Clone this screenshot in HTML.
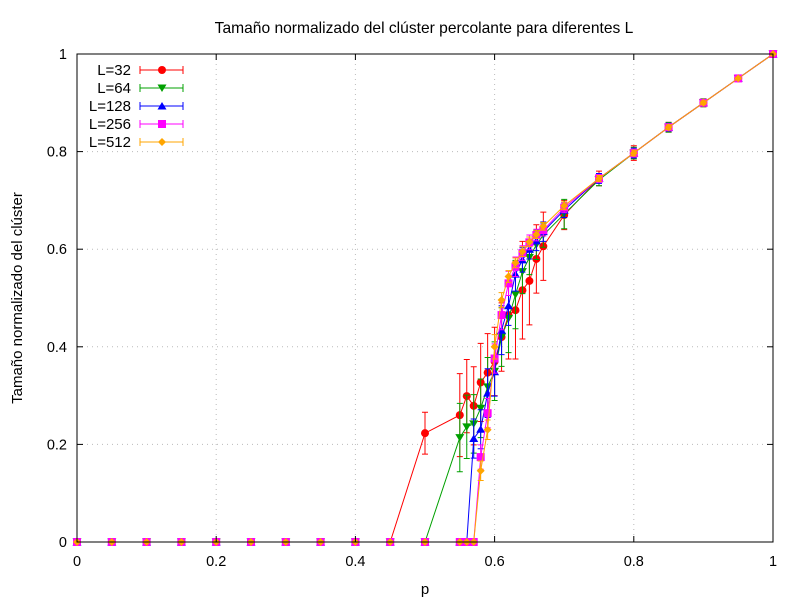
<!DOCTYPE html>
<html><head><meta charset="utf-8"><style>
body{margin:0;background:#fff}
svg text{font-family:"Liberation Sans",sans-serif}
</style></head><body>
<svg id="chart" width="800" height="600" xmlns="http://www.w3.org/2000/svg">
<rect width="800" height="600" fill="#fff"/>
<g id="grid"></g>
<g id="series"></g>
<rect x="77" y="54" width="696" height="488" fill="none" stroke="#000" stroke-width="1"/>
<g id="ticks"></g>
<text x="424" y="33" text-anchor="middle" font-size="15.6">Tamaño normalizado del clúster percolante para diferentes L</text>
<text x="425" y="594" text-anchor="middle" font-size="15">p</text>
<text transform="translate(22,298) rotate(-90)" text-anchor="middle" font-size="15">Tamaño normalizado del clúster</text>
<g id="legend"></g>
</svg>
<script>
const pVals=[0,0.05,0.1,0.15,0.2,0.25,0.3,0.35,0.4,0.45,0.5,0.55,0.56,0.57,0.58,0.59,0.6,0.61,0.62,0.63,0.64,0.65,0.66,0.67,0.7,0.75,0.8,0.85,0.9,0.95,1];
const seriesNames=["L=32","L=64","L=128","L=256","L=512"];
const s32=[0,0,0,0,0,0,0,0,0,0,0.223,0.26,0.299,0.279,0.327,0.347,0.37,0.42,0.465,0.475,0.516,0.535,0.58,0.606,0.67,0.745,0.797,0.85,0.9,0.95,1];
const s64=[0,0,0,0,0,0,0,0,0,0,0,0.214,0.236,0.242,0.274,0.318,0.35,0.42,0.458,0.507,0.554,0.583,0.609,0.629,0.672,0.742,0.797,0.85,0.9,0.95,1];
const s128=[0,0,0,0,0,0,0,0,0,0,0,0,0,0.212,0.231,0.305,0.349,0.434,0.484,0.549,0.578,0.6,0.617,0.636,0.68,0.745,0.797,0.85,0.9,0.95,1];
const s256=[0,0,0,0,0,0,0,0,0,0,0,0,0,0,0.174,0.264,0.376,0.465,0.53,0.564,0.592,0.614,0.629,0.639,0.685,0.745,0.797,0.85,0.9,0.95,1];
const s512=[0,0,0,0,0,0,0,0,0,0,0,0,0,0,0.146,0.23,0.4,0.496,0.544,0.572,0.595,0.615,0.63,0.647,0.689,0.745,0.797,0.85,0.9,0.95,1];
const e32=[0,0,0,0,0,0,0,0,0,0,0.043,0.085,0.075,0.08,0.08,0.08,0.07,0.07,0.09,0.1,0.1,0.09,0.07,0.07,0.03,0.015,0.015,0.01,0.008,0.004,0];
const e64=[0,0,0,0,0,0,0,0,0,0,0,0.07,0.065,0.06,0.06,0.06,0.06,0.06,0.07,0.07,0.045,0.035,0.03,0.025,0.03,0.012,0.012,0.01,0.008,0.004,0];
const e128=[0,0,0,0,0,0,0,0,0,0,0,0,0,0.04,0.04,0.05,0.05,0.05,0.04,0.035,0.025,0.02,0.02,0.02,0.015,0.01,0.01,0.008,0.006,0.003,0];
const e256=[0,0,0,0,0,0,0,0,0,0,0,0,0,0,0.025,0.03,0.03,0.03,0.025,0.02,0.015,0.015,0.012,0.012,0.01,0.008,0.008,0.006,0.004,0.003,0];
const e512=[0,0,0,0,0,0,0,0,0,0,0,0,0,0,0.02,0.02,0.025,0.015,0.012,0.01,0.01,0.01,0.008,0.008,0.008,0.006,0.006,0.005,0.004,0.002,0];
const xTicks=[0,0.2,0.4,0.6,0.8,1];
const yTicks=[0,0.2,0.4,0.6,0.8,1];
const NS="http://www.w3.org/2000/svg";
const X=v=>77+v*696, Y=v=>542-v*488;
function mk(t,a,par){const e=document.createElementNS(NS,t);for(const k in a)e.setAttribute(k,a[k]);par.appendChild(e);return e;}
const grid=document.getElementById('grid'),ticks=document.getElementById('ticks');
xTicks.forEach(t=>{
 if(t>0&&t<1){const g=mk('line',{x1:X(t),x2:X(t),y1:54,y2:542,stroke:'#bbb','stroke-dasharray':'1,4'},grid);}
 const l=mk('line',{x1:X(t),x2:X(t),y1:542,y2:536,stroke:'#000'},ticks);
 const l2=mk('line',{x1:X(t),x2:X(t),y1:54,y2:60,stroke:'#000'},ticks);
 const tx=mk('text',{x:X(t),y:566,'text-anchor':'middle','font-size':'14.5'},ticks);tx.textContent=String(t);
 
});
yTicks.forEach(t=>{
 if(t>0&&t<1){const g=mk('line',{x1:77,x2:773,y1:Y(t),y2:Y(t),stroke:'#bbb','stroke-dasharray':'1,4'},grid);}
 const l=mk('line',{x1:77,x2:83,y1:Y(t),y2:Y(t),stroke:'#000'},ticks);
 const l2=mk('line',{x1:767,x2:773,y1:Y(t),y2:Y(t),stroke:'#000'},ticks);
 const tx=mk('text',{x:67,y:Y(t)+5,'text-anchor':'end','font-size':'14.5'},ticks);tx.textContent=String(t);
 
});
const colors=['#ff0000','#00a000','#0000ff','#ff00ff','#ffa500'];
const shapes=['circle','tdown','tup','square','diamond'];
const data=[s32,s64,s128,s256,s512], errs=[e32,e64,e128,e256,e512];
function marker(sh,x,y,c,par){
 let e;
 if(sh==='circle')e=mk('circle',{cx:x,cy:y,r:4,fill:c},par);
 else if(sh==='tdown')e=mk('polygon',{points:`${x-4.5},${y-3.5} ${x+4.5},${y-3.5} ${x},${y+4}`,fill:c},par);
 else if(sh==='tup')e=mk('polygon',{points:`${x-4.5},${y+3.5} ${x+4.5},${y+3.5} ${x},${y-4}`,fill:c},par);
 else if(sh==='square')e=mk('rect',{x:x-4,y:y-4,width:8,height:8,fill:c},par);
 else e=mk('polygon',{points:`${x},${y-4} ${x+4},${y} ${x},${y+4} ${x-4},${y}`,fill:c},par);
 return e;
}
const sg=document.getElementById('series');
data.forEach((d,si)=>{
 const g=mk('g',{},sg);
 const pl=mk('polyline',{points:pVals.map((p,i)=>X(p)+','+Y(d[i])).join(' '),fill:'none',stroke:colors[si],'stroke-width':1},g);
 
 pVals.forEach((p,i)=>{
  const x=X(p),e=errs[si][i];
  if(e>0){const y1=Y(d[i]+e),y2=Y(d[i]-e);
   const eb=mk('path',{d:`M${x},${y1}V${y2}M${x-3},${y1}H${x+3}M${x-3},${y2}H${x+3}`,stroke:colors[si],fill:'none','stroke-width':1},g);
   }
  const m=marker(shapes[si],x,Y(d[i]),colors[si],g);
  
 });
});
const lg=document.getElementById('legend');
seriesNames.forEach((n,i)=>{
 const y=70+i*18;
 const g=mk('g',{},lg);
 const t=mk('text',{x:131,y:y+5,'text-anchor':'end','font-size':'15'},g);t.textContent=n;
 const ln=mk('path',{d:`M140,${y}H183M140,${y-4}V${y+4}M183,${y-4}V${y+4}`,stroke:colors[i],fill:'none'},g);
 
 const m=marker(shapes[i],162,y,colors[i],g);
});
</script>
</body></html>
